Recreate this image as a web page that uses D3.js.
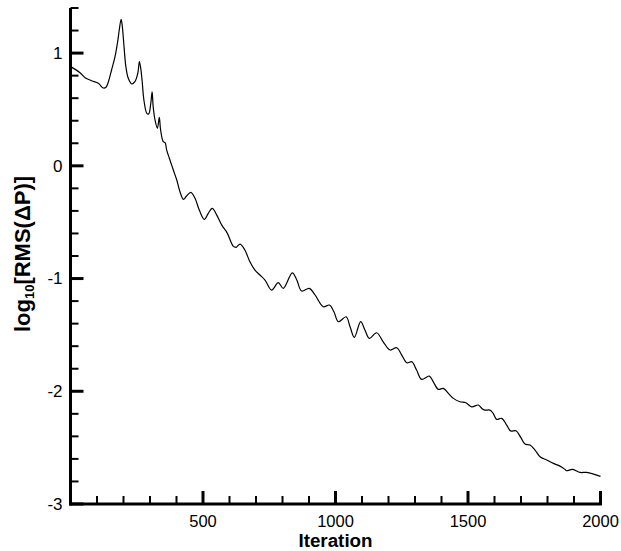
<!DOCTYPE html>
<html>
<head>
<meta charset="utf-8">
<script src="https://cdn.jsdelivr.net/npm/d3@7"></script>
<style>
  html, body { margin: 0; padding: 0; background: #fff; }
  svg { display: block; }
  text { font-family: "Liberation Sans", Arial, Helvetica, sans-serif; fill: #000; }
</style>
</head>
<body>
<svg id="chart" width="621" height="551"></svg>
<script>
// Convergence history: iteration number and log10 of the RMS pressure residual
const iterations = [
  1, 36, 55, 80, 105, 124, 134, 143, 155, 168, 177, 184, 191, 195, 202, 209, 218, 231, 243, 254,
  260, 265, 270, 277, 288, 295, 303, 308, 312, 319, 328, 335, 340, 350, 357, 363, 373, 388, 401, 413,
  426, 438, 454, 470, 486, 505, 520, 535, 552, 571, 592, 614, 625, 640, 658, 677, 696, 715, 734, 759,
  784, 803, 837, 854, 872, 901, 923, 954, 977, 994, 1011, 1040, 1055, 1071, 1095, 1111, 1128, 1155, 1180, 1206,
  1231, 1250, 1269, 1288, 1306, 1325, 1354, 1369, 1388, 1407, 1426, 1445, 1470, 1492, 1514, 1539, 1552, 1564, 1583, 1595,
  1608, 1627, 1646, 1661, 1681, 1699, 1715, 1734, 1753, 1772, 1797, 1822, 1847, 1866, 1872, 1895, 1923, 1948, 2000
];
const logResidual = [
  0.880, 0.826, 0.782, 0.755, 0.732, 0.690, 0.697, 0.746, 0.850, 0.968, 1.087, 1.205, 1.300, 1.249, 1.057, 0.879, 0.776, 0.726, 0.746, 0.821,
  0.924, 0.865, 0.761, 0.584, 0.466, 0.460, 0.555, 0.657, 0.524, 0.406, 0.333, 0.430, 0.318, 0.214, 0.205, 0.140, 0.067, -0.037, -0.126, -0.230,
  -0.297, -0.268, -0.235, -0.288, -0.392, -0.475, -0.421, -0.377, -0.437, -0.526, -0.599, -0.712, -0.723, -0.694, -0.747, -0.851, -0.925, -0.969, -1.013, -1.102,
  -1.037, -1.087, -0.949, -1.013, -1.111, -1.087, -1.146, -1.250, -1.235, -1.295, -1.383, -1.339, -1.428, -1.522, -1.383, -1.457, -1.531, -1.481, -1.561, -1.634,
  -1.614, -1.679, -1.747, -1.738, -1.812, -1.894, -1.865, -1.916, -1.983, -1.974, -2.019, -2.063, -2.093, -2.102, -2.138, -2.122, -2.152, -2.167, -2.167, -2.196,
  -2.249, -2.240, -2.300, -2.353, -2.350, -2.409, -2.468, -2.477, -2.522, -2.581, -2.610, -2.640, -2.664, -2.693, -2.705, -2.693, -2.720, -2.720, -2.755
];

// Axis ticks
const xMajorTicks = [500, 1000, 1500, 2000];
const xMinorTicks = [100, 200, 300, 400, 600, 700, 800, 900, 1100, 1200, 1300, 1400, 1600, 1700, 1800, 1900];
const yMajorTicks = [-3, -2, -1, 0, 1];
const yMinorTicks = [-2.8, -2.6, -2.4, -2.2, -1.8, -1.6, -1.4, -1.2, -0.8, -0.6, -0.4, -0.2, 0.2, 0.4, 0.6, 0.8, 1.2, 1.4];

const xTitle = "Iteration";

const svg = d3.select("#chart");

const x = d3.scaleLinear().domain([0, 2000]).range([70.5, 600.5]);
const y = d3.scaleLinear().domain([-3, 1.4]).range([504, 8]);

const x0 = x(0), yBase = y(-3);

// Inward-pointing tick marks
const ticks = svg.append("g").attr("stroke", "#000");
ticks.selectAll("line.xminor").data(xMinorTicks).join("line")
  .attr("class", "xminor")
  .attr("x1", d => x(d)).attr("x2", d => x(d))
  .attr("y1", yBase).attr("y2", yBase - 8)
  .attr("stroke-width", 2);
ticks.selectAll("line.xmajor").data(xMajorTicks).join("line")
  .attr("class", "xmajor")
  .attr("x1", d => x(d)).attr("x2", d => x(d))
  .attr("y1", yBase).attr("y2", yBase - 13)
  .attr("stroke-width", 3);
ticks.selectAll("line.yminor").data(yMinorTicks).join("line")
  .attr("class", "yminor")
  .attr("x1", x0).attr("x2", x0 + 8)
  .attr("y1", d => y(d)).attr("y2", d => y(d))
  .attr("stroke-width", 2);
ticks.selectAll("line.ymajor").data(yMajorTicks).join("line")
  .attr("class", "ymajor")
  .attr("x1", x0).attr("x2", x0 + 13)
  .attr("y1", d => y(d)).attr("y2", d => y(d))
  .attr("stroke-width", 3);

// Tick labels
svg.append("g").selectAll("text").data(xMajorTicks).join("text")
  .attr("x", d => x(d))
  .attr("y", 526.5)
  .attr("text-anchor", "middle")
  .attr("font-size", 16.5)
  .text(d => String(d));

svg.append("g").selectAll("text").data(yMajorTicks).join("text")
  .attr("x", x0 - 8)
  .attr("y", d => y(d))
  .attr("dy", "0.35em")
  .attr("text-anchor", "end")
  .attr("font-size", 17)
  .text(d => String(d));

// Axis lines
svg.append("line")
  .attr("x1", x0).attr("x2", x0).attr("y1", y(1.4)).attr("y2", yBase + 1.5)
  .attr("stroke", "#000").attr("stroke-width", 3);
svg.append("line")
  .attr("x1", x0 - 1.5).attr("x2", x(2000) + 1.5).attr("y1", yBase).attr("y2", yBase)
  .attr("stroke", "#000").attr("stroke-width", 3);

// Residual curve
const series = iterations.map((it, i) => [it, logResidual[i]]);
svg.append("path")
  .datum(series)
  .attr("fill", "none")
  .attr("stroke", "#000")
  .attr("stroke-width", 1.2)
  .attr("stroke-linejoin", "round")
  .attr("d", d3.line().x(d => x(d[0])).y(d => y(d[1])).curve(d3.curveCatmullRom.alpha(0.5)));

// Axis titles
svg.append("text")
  .attr("x", (x(0) + x(2000)) / 2)
  .attr("y", 547)
  .attr("text-anchor", "middle")
  .attr("font-weight", "bold")
  .attr("font-size", 18.8)
  .text(xTitle);

const yTitle = svg.append("text")
  .attr("transform", "translate(30,254) rotate(-90)")
  .attr("text-anchor", "middle")
  .attr("font-weight", "bold")
  .attr("font-size", 22);
yTitle.append("tspan").text("log");
yTitle.append("tspan").attr("font-size", 13).attr("dy", 4).text("10");
yTitle.append("tspan").attr("dy", -4).text("[RMS(ΔP)]");
</script>
</body>
</html>
